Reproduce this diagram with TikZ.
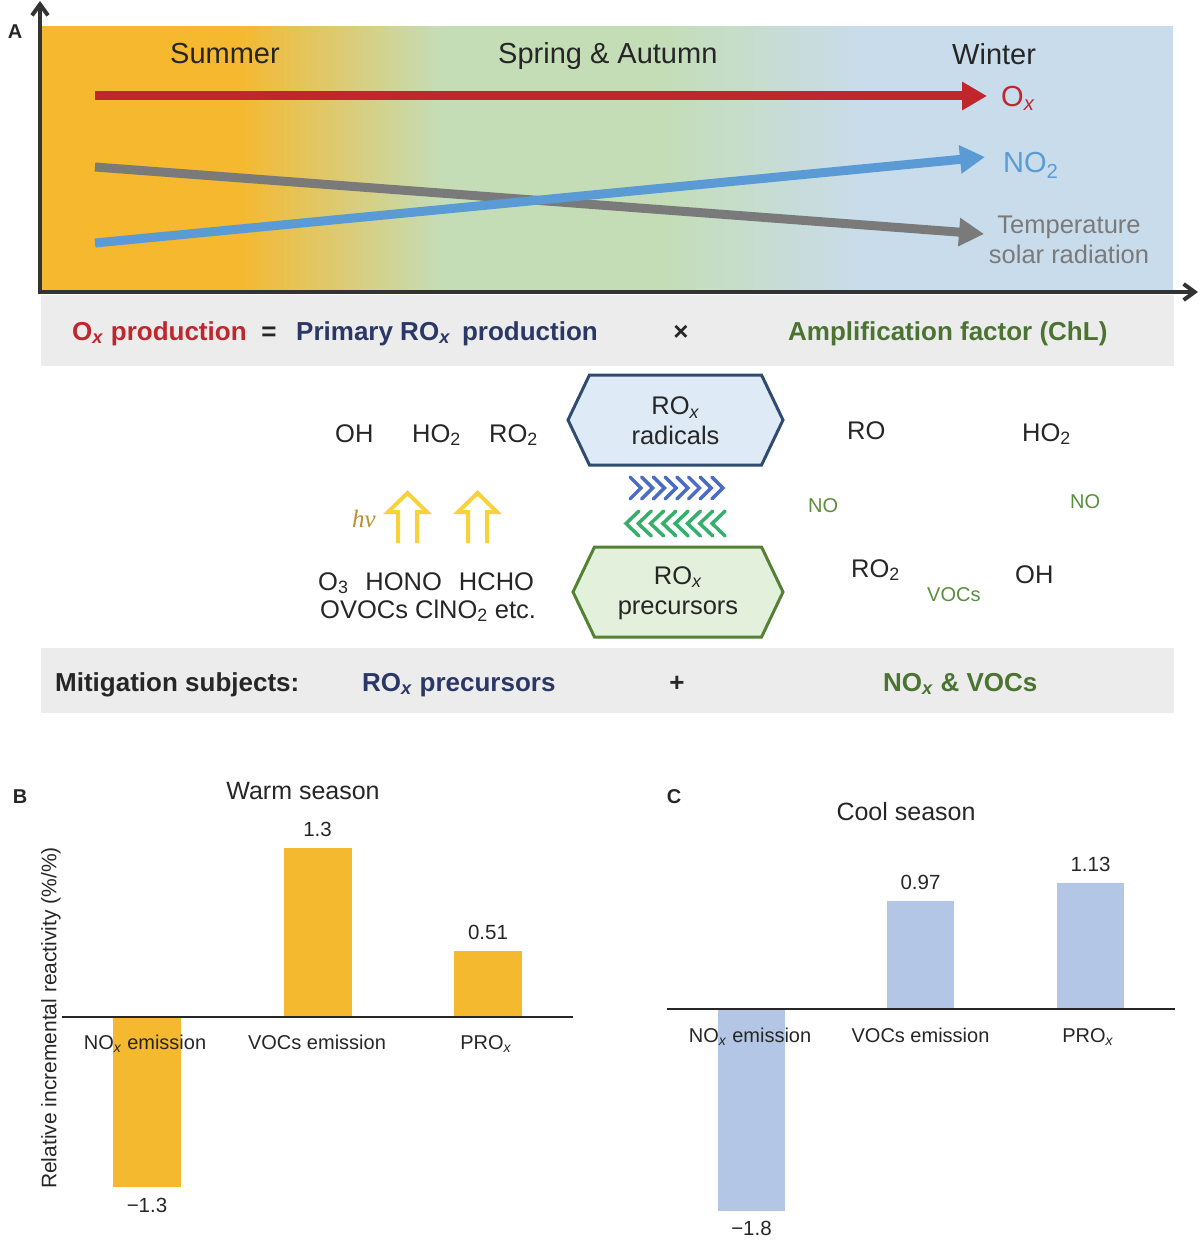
\documentclass[tikz,border=0pt]{standalone}
\usepackage{fontspec}
\setmainfont{Liberation Sans}
\newfontfamily\hvfont{Liberation Serif}
\usetikzlibrary{arrows.meta,positioning,shapes.symbols}

% colours
\definecolor{summer}{HTML}{F5B82E}
\definecolor{spring}{HTML}{C4DDB7}
\definecolor{winter}{HTML}{C9DCEC}
\definecolor{ink}{HTML}{262626}
\definecolor{axisgray}{HTML}{333333}
\definecolor{oxred}{HTML}{C0272D}
\definecolor{noblue}{HTML}{5B9BD5}
\definecolor{tempgray}{HTML}{7A7A7A}
\definecolor{bandgray}{HTML}{ECECEC}
\definecolor{navy}{HTML}{2B3766}
\definecolor{leaf}{HTML}{4B7331}
\definecolor{nogreen}{HTML}{5A8E3E}
\definecolor{radfill}{HTML}{DEEBF7}
\definecolor{radline}{HTML}{2F4B70}
\definecolor{prefill}{HTML}{E3F0DB}
\definecolor{preline}{HTML}{548235}
\definecolor{chevblue}{HTML}{4A6CC4}
\definecolor{chevgreen}{HTML}{34B06C}
\definecolor{sunyellow}{HTML}{F7D23A}
\definecolor{hvgold}{HTML}{B8902F}
\definecolor{warmbar}{HTML}{F4B92F}
\definecolor{coolbar}{HTML}{B4C6E6}

\pgfdeclarehorizontalshading{seasons}{100bp}{color(0bp)=(summer); color(33.7bp)=(summer);
  color(42.7bp)=(spring); color(52.5bp)=(spring); color(61.5bp)=(winter); color(100bp)=(winter)}

\newcommand{\ox}{O\textsubscript{\textit{x}}}
\newcommand{\rox}{RO\textsubscript{\textit{x}}}
\newcommand{\nox}{NO\textsubscript{\textit{x}}}

\begin{document}
\begin{tikzpicture}[
	x = 1pt, y = -1pt, % one unit per pixel, y downwards
	axisline/.style={line width=4pt, draw=axisgray, -{Straight Barb[length=11pt,width=16pt]}},
	trendarrow/.style={line width=9pt, -{Triangle[length=25pt,width=27pt]}},
	season/.style={anchor=base west, inner sep=0pt, font=\fontsize{29}{34}\selectfont, text=ink},
	band/.style={fill=bandgray, draw=none},
	eq/.style={anchor=base west, inner sep=0pt, font=\fontsize{26}{31}\selectfont\bfseries},
	species/.style={anchor=base west, inner sep=0pt, font=\fontsize{25.5}{30}\selectfont, text=ink},
	catalyst/.style={anchor=base west, inner sep=0pt, font=\fontsize{20}{24}\selectfont, text=nogreen},
	hexa/.style={signal, signal to=east and west, signal pointer angle=129, minimum height=90pt, line width=3pt},
	hextext/.style={align=center, inner sep=0pt, font=\fontsize{25.5}{30}\selectfont, text=ink},
	chevron/.style={line width=3.5pt, line cap=round},
	hvarrow/.style={line width=4pt, draw=sunyellow},
	panel/.style={font=\fontsize{20}{24}\selectfont\bfseries, text=ink},
	ptitle/.style={anchor=base, inner sep=0pt, font=\fontsize{25}{30}\selectfont, text=ink},
	barbox/.style={minimum width=68pt, inner sep=0pt, outer sep=0pt, draw=none},
	barval/.style={inner sep=0pt, font=\fontsize{20.5}{24}\selectfont, text=ink},
	barcat/.style={anchor=base, inner sep=0pt, font=\fontsize{20}{24}\selectfont, text=ink},
	zeroline/.style={line width=1.3pt, draw=ink},
	]
	\useasboundingbox (0,0) rectangle (1200,1246);

	% ---------------- panel A: seasonal trends ----------------
	\shade[shading=seasons] (40,27) rectangle (1173,292);
	\node[panel] (A) at (15,32) {A};

	\node[season] (summer) at (170,64) {Summer};
	\node[season] (spring) at (498,64) {Spring \& Autumn};
	\node[season] (winter) at (952,65) {Winter};

	% trend arrows
	\coordinate (oxS) at (95,96);   \coordinate (oxE) at (987,96);
	\coordinate (tS)  at (95,167);  \coordinate (tE)  at (984,234);
	\coordinate (noS) at (95,243);  \coordinate (noE) at (985,157);
	\node[season, text=oxred] (ox) at (1001,107) {\ox};
	\node[season, text=noblue] (no2) at (1003,173) {NO\textsubscript{2}};
	\node[align=center, inner sep=0pt, text=tempgray, font=\fontsize{25.5}{30}\selectfont] (temp) at (1069,240) {Temperature\\solar radiation};

	\draw[trendarrow, oxred] (oxS) -- (oxE);
	\draw[trendarrow, tempgray] (tS) -- (tE);
	\draw[trendarrow, noblue] (noS) -- (noE);

	% axes
	\coordinate (O) at (40,292);
	\coordinate (ytop) at (40,1);
	\coordinate (xend) at (1198,292);
	\draw[axisline] ([yshift=-2pt]O) -- (ytop);
	\draw[axisline] ([xshift=-2pt]O) -- (xend);

	% ---------------- equation band ----------------
	\fill[band] (41,295) rectangle (1174,366);
	\node[eq, text=oxred] (oxprod) at (72,340) {\ox{} production};
	\node[eq, text=ink, anchor=base] (equals) at (269,340) {=};
	\node[eq, text=navy] (primary) at (296,340) {Primary \rox{}\, production};
	\node[eq, text=ink, anchor=base] (times) at (681,340) {×};
	\node[eq, text=leaf] (chl) at (788,340) {Amplification factor (ChL)};

	% ---------------- radical cycle ----------------
	\node[hexa, fill=radfill, draw=radline, minimum width=215pt] (rad) at (675.5,420) {};
	\node[hextext] (radtxt) at ([yshift=-1pt]rad.center) {\rox\\radicals};
	\node[hexa, fill=prefill, draw=preline, minimum width=210pt] (pre) at (678,592) {};
	\node[hextext] (pretxt) at ([yshift=-1pt]pre.center) {\rox\\precursors};

	% chevrons between the two boxes
	\foreach \i in {0,...,7}
		\draw[chevron, chevblue] (630+11.7*\i,477) -- (641+11.7*\i,488) -- (630+11.7*\i,499);
	\foreach \i in {0,...,7}
		\draw[chevron, chevgreen] (639+12.3*\i,511) -- (626+12.3*\i,523.5) -- (639+12.3*\i,536);

	% left side: primary sources
	\node[species] (ohL)  at (335,442) {OH};
	\node[species] (ho2L) at (412,442) {HO\textsubscript{2}};
	\node[species] (ro2L) at (489,442) {RO\textsubscript{2}};
	\node[anchor=base west, inner sep=0pt, text=hvgold, font=\fontsize{25}{30}\selectfont] (hv) at (352,527) {\hvfont\itshape hν};
	\foreach \ax in {407.5,477.5}
		\draw[hvarrow] (\ax-9.5,543) -- (\ax-9.5,512) -- (\ax-19.5,512) -- (\ax,493)
			-- (\ax+19.5,512) -- (\ax+9.5,512) -- (\ax+9.5,543);
	\node[species] (srcA) at (318,590) {O\textsubscript{3}\hspace{17pt}HONO\hspace{17pt}HCHO};
	\node[species] (srcB) at (320,618) {OVOCs ClNO\textsubscript{2} etc.};

	% right side: propagation
	\node[species]  (roR)  at (847,439)  {RO};
	\node[species]  (ho2R) at (1022,441) {HO\textsubscript{2}};
	\node[catalyst] (noA)  at (808,512)  {NO};
	\node[catalyst] (noB)  at (1070,508) {NO};
	\node[species]  (ro2R) at (851,577)  {RO\textsubscript{2}};
	\node[catalyst] (vocs) at (927,601)  {VOCs};
	\node[species]  (ohR)  at (1015,583) {OH};

	% ---------------- mitigation band ----------------
	\fill[band] (41,648) rectangle (1174,713);
	\node[eq, text=ink] (mitig) at (55,691) {Mitigation subjects:};
	\node[eq, text=navy] (mprec) at (362,691) {\rox{} precursors};
	\node[eq, text=ink, anchor=base] (plus) at (677,691) {+};
	\node[eq, text=leaf] (mnox) at (883,691) {\nox{} \& VOCs};

	% ---------------- panel B: warm season ----------------
	\node[panel] (B) at (20,797) {B};
	\node[ptitle] (warm) at (303,799) {Warm season};
	\node[rotate=90, inner sep=0pt, text=ink, font=\fontsize{21}{25}\selectfont] (ylab) at (51,1018) {Relative incremental reactivity (\%/\%)};
	\node[barbox, fill=warmbar, minimum height=170pt, anchor=north] (wNOx) at (147,1017) {};
	\node[barbox, fill=warmbar, minimum height=169pt, anchor=south] (wVOC) at (317.5,1017) {};
	\node[barbox, fill=warmbar, minimum height=66pt,  anchor=south] (wPRO) at (488,1017) {};
	\coordinate (wL) at (62,1017);  \coordinate (wR) at (573,1017);
	\draw[zeroline] (wL) -- (wR);
	\node[barval, below=11pt of wNOx] (wNOxv) {−1.3};
	\node[barval, above=11pt of wVOC] (wVOCv) {1.3};
	\node[barval, above=11pt of wPRO] (wPROv) {0.51};
	\node[barcat] (wNOxc) at (145,1049) {\nox{} emission};
	\node[barcat] (wVOCc) at (317,1049) {VOCs emission};
	\node[barcat] (wPROc) at (486,1049) {PR\ox};

	% ---------------- panel C: cool season ----------------
	\node[panel] (C) at (674,797) {C};
	\node[ptitle] (cool) at (906,820) {Cool season};
	\node[barbox, fill=coolbar, minimum width=67pt, minimum height=202pt, anchor=north] (cNOx) at (751.5,1009) {};
	\node[barbox, fill=coolbar, minimum width=67pt, minimum height=108pt, anchor=south] (cVOC) at (920.5,1009) {};
	\node[barbox, fill=coolbar, minimum width=67pt, minimum height=126pt, anchor=south] (cPRO) at (1090.5,1009) {};
	\coordinate (cL) at (667,1009);  \coordinate (cR) at (1175,1009);
	\draw[zeroline] (cL) -- (cR);
	\node[barval, below=10pt of cNOx] (cNOxv) {−1.8};
	\node[barval, above=11pt of cVOC] (cVOCv) {0.97};
	\node[barval, above=11pt of cPRO] (cPROv) {1.13};
	\node[barcat] (cNOxc) at (750,1042) {\nox{} emission};
	\node[barcat] (cVOCc) at (920.5,1042) {VOCs emission};
	\node[barcat] (cPROc) at (1088,1042) {PR\ox};
\end{tikzpicture}
\end{document}
